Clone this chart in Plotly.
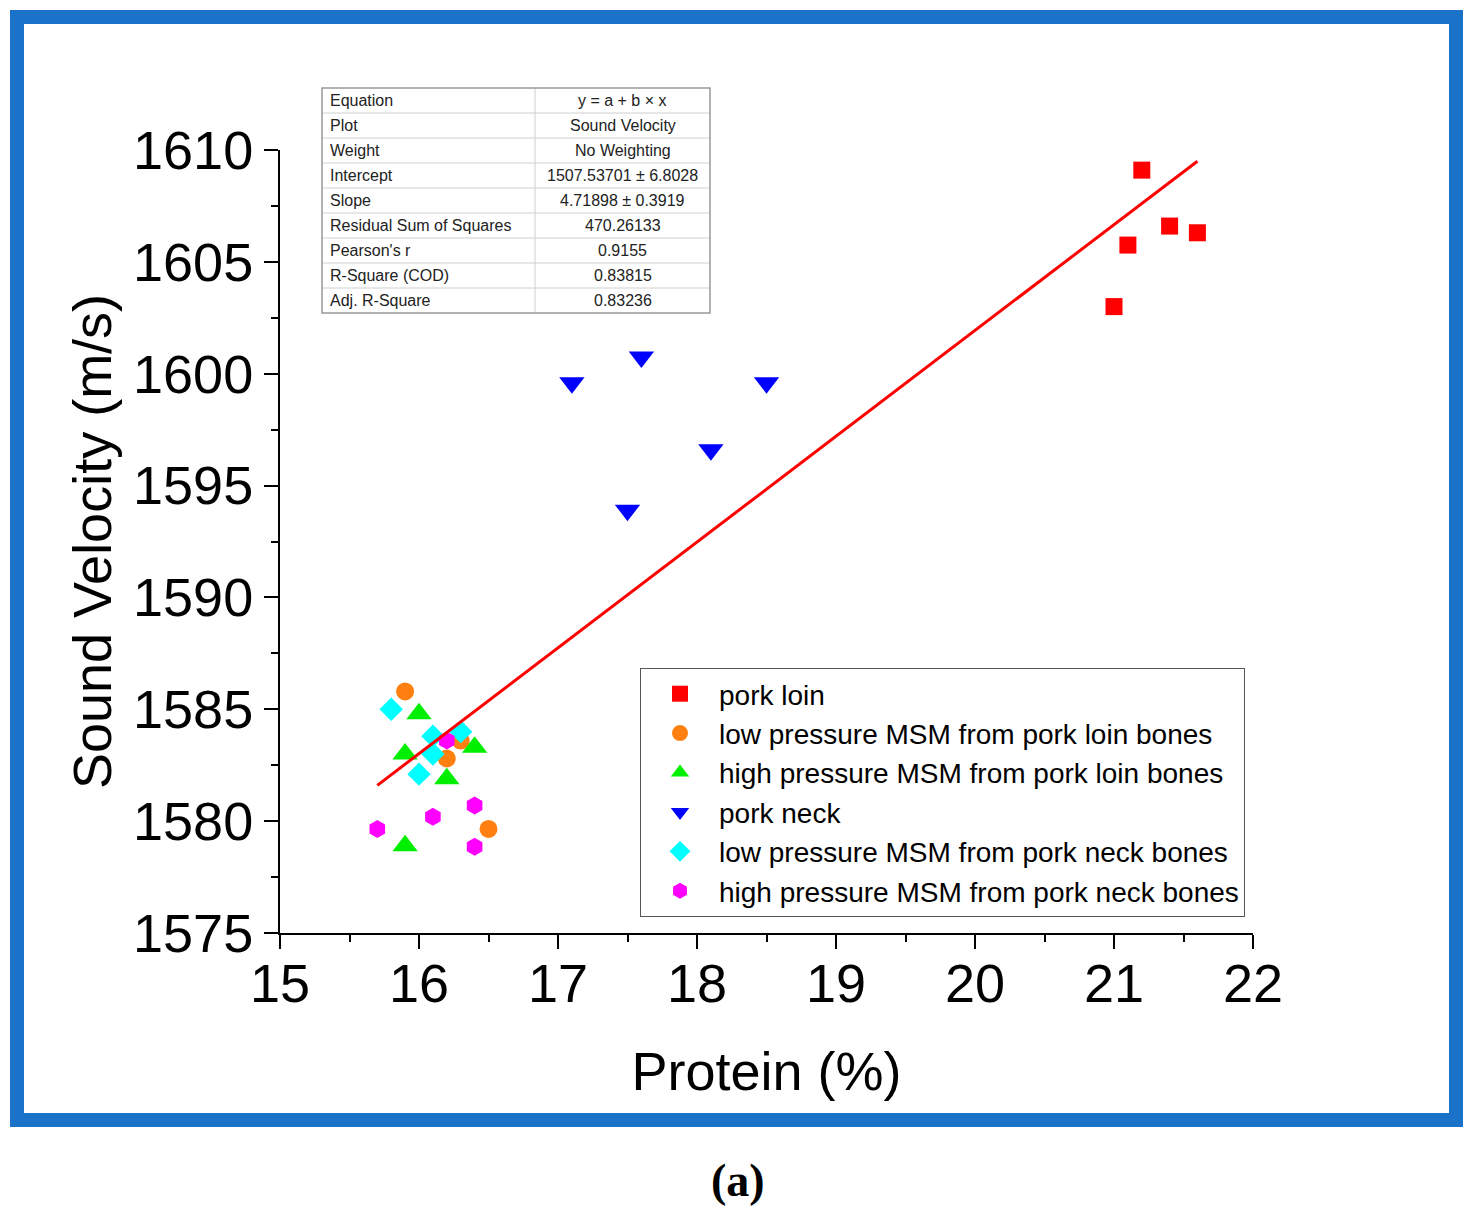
import plotly.graph_objects as go

# data
loin_x = [21.2, 21.1, 21.4, 21.6, 21.0]
loin_y = [1609.1, 1605.75, 1606.6, 1606.3, 1603.0]

lp_loin_x = [15.9, 16.3, 16.2, 16.5]
lp_loin_y = [1585.8, 1583.6, 1582.8, 1579.65]

hp_loin_x = [16.0, 15.9, 16.4, 16.2, 15.9]
hp_loin_y = [1584.8, 1583.0, 1583.3, 1581.9, 1578.9]

neck_x = [17.1, 17.6, 18.5, 18.1, 17.5]
neck_y = [1599.6, 1600.75, 1599.6, 1596.6, 1593.9]

lp_neck_x = [15.8, 16.1, 16.3, 16.1, 16.0]
lp_neck_y = [1585.0, 1583.8, 1584.0, 1583.0, 1582.1]

hp_neck_x = [16.2, 15.7, 16.1, 16.4, 16.4]
hp_neck_y = [1583.6, 1579.65, 1580.2, 1580.7, 1578.85]

fit_x = [15.7, 21.6]
fit_y = [1581.6, 1609.5]

table_labels = ["Equation", "Plot", "Weight", "Intercept", "Slope",
                "Residual Sum of Squares", "Pearson's r", "R-Square (COD)",
                "Adj. R-Square"]
table_values = ["y = a + b × x", "Sound Velocity", "No Weighting",
                "1507.53701 ± 6.8028", "4.71898 ± 0.3919", "470.26133",
                "0.9155", "0.83815", "0.83236"]

# pixel -> paper helpers (plot area in px)
PL, PR, PT, PB = 280, 1253, 150, 933


def px(x):
    return (x - PL) / (PR - PL)


def py(y):
    return (PB - y) / (PB - PT)


FONT = "Arial, Liberation Sans, sans-serif"

series = [
    ("pork loin", loin_x, loin_y, "square", "#ff0000", 17),
    ("low pressure MSM from pork loin bones", lp_loin_x, lp_loin_y, "circle", "#ff8010", 18),
    ("high pressure MSM from pork loin bones", hp_loin_x, hp_loin_y, "triangle-up", "#00ee00", 22),
    ("pork neck", neck_x, neck_y, "triangle-down", "#0000ff", 22),
    ("low pressure MSM from pork neck bones", lp_neck_x, lp_neck_y, "diamond", "#00ffff", 18),
    ("high pressure MSM from pork neck bones", hp_neck_x, hp_neck_y, "hexagon", "#ff00ff", 18),
]

fig = go.Figure()
for name, xs, ys, sym, col, sz in series:
    fig.add_trace(go.Scatter(x=xs, y=ys, mode="markers", name=name,
                             marker=dict(symbol=sym, size=sz, color=col,
                                         line=dict(width=0))))

fig.add_trace(go.Scatter(x=fit_x, y=fit_y, mode="lines", showlegend=False,
                         line=dict(color="#ff0000", width=3)))

shapes = []
annotations = []

# blue frame round the figure
shapes.append(dict(type="rect", xref="paper", yref="paper",
                   x0=px(17), x1=px(1456), y0=py(1120), y1=py(17),
                   line=dict(color="#1b73c9", width=14)))

# fit-result table
t_top, row_h = 88, 25
t_left, t_mid, t_right = 322, 535, 710
n = len(table_labels)
for i in range(1, n):
    yy = py(t_top + i * row_h)
    shapes.append(dict(type="line", xref="paper", yref="paper",
                       x0=px(t_left), x1=px(t_right), y0=yy, y1=yy,
                       line=dict(color="#d0d0d0", width=1)))
shapes.append(dict(type="line", xref="paper", yref="paper",
                   x0=px(t_mid), x1=px(t_mid), y0=py(t_top), y1=py(t_top + n * row_h),
                   line=dict(color="#d0d0d0", width=1)))
shapes.append(dict(type="rect", xref="paper", yref="paper",
                   x0=px(t_left), x1=px(t_right), y0=py(t_top + n * row_h), y1=py(t_top),
                   line=dict(color="#999999", width=1.5)))
for i, (lab, val) in enumerate(zip(table_labels, table_values)):
    yc = py(t_top + i * row_h + row_h / 2)
    annotations.append(dict(x=px(t_left + 6), y=yc, xref="paper", yref="paper",
                            text=lab, showarrow=False, xanchor="left", yanchor="middle",
                            font=dict(family=FONT, size=16, color="#222")))
    annotations.append(dict(x=px((t_mid + t_right) / 2), y=yc, xref="paper", yref="paper",
                            text=val, showarrow=False, xanchor="center", yanchor="middle",
                            font=dict(family=FONT, size=16, color="#222")))

# panel label
annotations.append(dict(x=px(738), y=py(1180), xref="paper", yref="paper",
                        text="<b>(a)</b>", showarrow=False,
                        xanchor="center", yanchor="middle",
                        font=dict(family="Liberation Serif, Times New Roman, serif",
                                  size=46, color="#000")))

axis_common = dict(showline=True, linecolor="black", linewidth=2,
                   ticks="outside", ticklen=14, tickwidth=2, tickcolor="black",
                   showgrid=False, zeroline=False, mirror=False,
                   tickfont=dict(family=FONT, size=54, color="black"))

fig.update_layout(
    width=1471, height=1218,
    margin=dict(l=PL, r=1471 - PR, t=PT, b=1218 - PB),
    paper_bgcolor="white", plot_bgcolor="white",
    font=dict(family=FONT, color="black"),
    xaxis=dict(range=[15, 22], dtick=1, tick0=15, ticklabelstandoff=-12,
               minor=dict(dtick=0.5, ticks="outside", ticklen=7, tickwidth=2, tickcolor="black"),
               title=dict(text="Protein (%)", font=dict(family=FONT, size=54), standoff=40),
               **axis_common),
    yaxis=dict(range=[1575, 1610], dtick=5, tick0=1575,
               minor=dict(dtick=2.5, ticks="outside", ticklen=7, tickwidth=2, tickcolor="black"),
               title=dict(text="Sound Velocity (m/s)", font=dict(family=FONT, size=54), standoff=4),
               **axis_common),
    legend=dict(x=px(640), y=py(668), xanchor="left", yanchor="top",
                bordercolor="#555", borderwidth=1, bgcolor="white",
                font=dict(family=FONT, size=28, color="black"),
                itemwidth=68),
    shapes=shapes,
    annotations=annotations,
)

fig.write_html("out.html", config={"displayModeBar": False},
               post_script="document.body.style.margin='0';")
